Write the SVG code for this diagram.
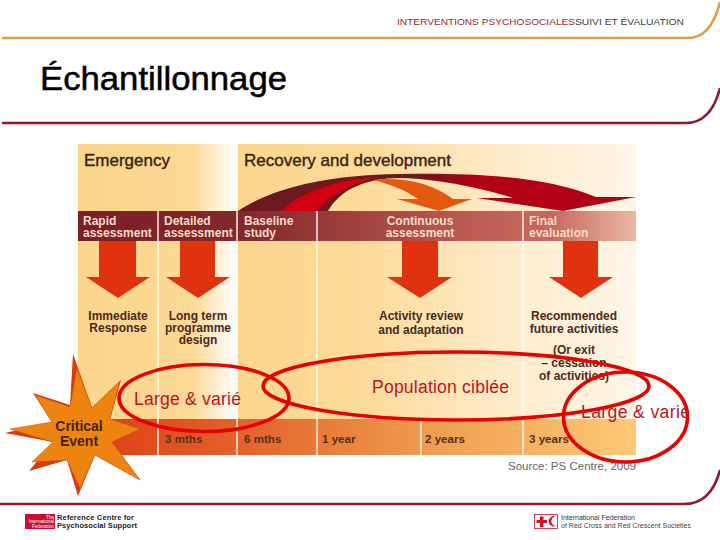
<svg xmlns="http://www.w3.org/2000/svg" width="720" height="540" viewBox="0 0 720 540">
<style>
text{font-family:"Liberation Sans",Arial,sans-serif}
.hd{font-size:17px;fill:#3a2413;stroke:#3a2413;stroke-width:.4}
.bar{font-size:12px;font-weight:bold;fill:#f6dcc8}
.lab{font-size:12px;font-weight:bold;fill:#4a2a1c;text-anchor:middle}
.yr{font-size:11.6px;font-weight:bold;fill:#57301a}
.red{font-size:17.6px;fill:#c0141c}
.ring{fill:none;stroke:#e60000;stroke-width:3.6}
.sep{stroke:#fff;stroke-width:1.6;opacity:.85}
.dn{fill:#e0320f}
.rule{fill:none;stroke-width:2.6}
</style>
<defs>
<linearGradient id="pl" gradientUnits="userSpaceOnUse" x1="78" y1="0" x2="237" y2="0"><stop offset="0" stop-color="#fbd58c"/><stop offset=".72" stop-color="#fcd995"/><stop offset="1" stop-color="#ffffff"/></linearGradient>
<linearGradient id="pr" gradientUnits="userSpaceOnUse" x1="238" y1="0" x2="636" y2="0"><stop offset="0" stop-color="#fcd68c"/><stop offset=".3" stop-color="#fdda98"/><stop offset=".7" stop-color="#feeccc"/><stop offset="1" stop-color="#fff6e8"/></linearGradient>
<linearGradient id="hb" gradientUnits="userSpaceOnUse" x1="78" y1="0" x2="636" y2="0"><stop offset="0" stop-color="#7a1f26"/><stop offset=".3" stop-color="#85282c"/><stop offset=".72" stop-color="#bf5d55"/><stop offset=".85" stop-color="#c7695e"/><stop offset="1" stop-color="#eab9a2"/></linearGradient>
<linearGradient id="bb" gradientUnits="userSpaceOnUse" x1="78" y1="0" x2="636" y2="0"><stop offset="0" stop-color="#e03a14"/><stop offset=".3" stop-color="#e4632b"/><stop offset=".65" stop-color="#efa052"/><stop offset="1" stop-color="#fdc878"/></linearGradient>
<linearGradient id="arc" gradientUnits="userSpaceOnUse" x1="238" y1="0" x2="636" y2="0"><stop offset="0" stop-color="#6c1a1e"/><stop offset=".45" stop-color="#6c1a1e"/><stop offset=".6" stop-color="#b20016"/><stop offset="1" stop-color="#b20016"/></linearGradient>
</defs>

<g id="frame">
<path class="rule" stroke="#dfa045" d="M2 38H688Q711 38 720 2"/>
<path class="rule" stroke="#8c1a2c" d="M2 123H686Q711 123 720 88"/>
<path class="rule" stroke="#8c1a2c" d="M0 504H684Q711 504 720 470"/>
<text x="397" y="25" font-size="9.5" fill="#a32035" textLength="178" lengthAdjust="spacingAndGlyphs">INTERVENTIONS PSYCHOSOCIALES</text>
<text x="575" y="25" font-size="9.5" fill="#3c3c3c" textLength="109" lengthAdjust="spacingAndGlyphs">SUIVI ET ÉVALUATION</text>
<text x="40" y="90" font-size="33.5" fill="#000" stroke="#000" stroke-width=".5" textLength="247" lengthAdjust="spacingAndGlyphs">Échantillonnage</text>
</g>

<g id="panel">
<rect x="78" y="144" width="159" height="311" fill="url(#pl)"/>
<rect x="238" y="144" width="398" height="311" fill="url(#pr)"/>
<rect x="78" y="211" width="558" height="30" fill="url(#hb)"/>
<rect x="78" y="419" width="558" height="36" fill="url(#bb)"/>
<path class="sep" d="M158 211V455M237 144V455M317 211V455M421 419V455M523 211V455"/>
<text class="hd" x="84" y="166">Emergency</text>
<text class="hd" x="244" y="166">Recovery and development</text>
</g>

<g id="connectors">
<path fill="url(#arc)" d="M238 211C270 190 320 175 400 174C460 173 540 174 596 197H636L563 211L477 198H513C495 192 445 179 400 178C365 178 340 190 328 211Z"/>
<path fill="#d20012" d="M281 211C300 193 335 179 375 178C350 185 330 195 317 211Z"/>
<path fill="#e25a0e" d="M373 180C405 176 435 185 453 199H472L439 211L397 199H418C405 190 390 184 373 180Z"/>
<path class="dn" d="M99 241H136V277H150L118 298L86 277H99Z"/>
<path class="dn" d="M180 241H215V277H230L198 298L166 277H180Z"/>
<path class="dn" d="M402 241H438V277H452L420 298L387 277H402Z"/>
<path class="dn" d="M563 241H598V277H613L581 298L549 277H563Z"/>
</g>

<g id="rapid"><text class="bar" x="83" y="224.500">Rapid</text><text class="bar" x="83" y="236.500">assessment</text></g>
<g id="detailed"><text class="bar" x="164" y="224.500">Detailed</text><text class="bar" x="164" y="236.500">assessment</text></g>
<g id="baseline"><text class="bar" x="244" y="224.500">Baseline</text><text class="bar" x="244" y="236.500">study</text></g>
<g id="continuous"><text class="bar" x="420" y="224.500" text-anchor="middle">Continuous</text><text class="bar" x="420" y="236.500" text-anchor="middle">assessment</text></g>
<g id="final"><text class="bar" x="529" y="224.500">Final</text><text class="bar" x="529" y="236.500">evaluation</text></g>

<g id="immediate"><text class="lab" x="118" y="319.500">Immediate</text><text class="lab" x="118" y="331.500">Response</text></g>
<g id="longterm"><text class="lab" x="198" y="319.500">Long term</text><text class="lab" x="198" y="331.500">programme</text><text class="lab" x="198" y="343.500">design</text></g>
<g id="activity"><text class="lab" x="421" y="320">Activity review</text><text class="lab" x="421" y="334">and adaptation</text></g>
<g id="recommended"><text class="lab" x="574" y="320">Recommended</text><text class="lab" x="574" y="333">future activities</text></g>
<g id="exit"><text class="lab" x="574" y="354">(Or exit</text><text class="lab" x="574" y="366.500">– cessation</text><text class="lab" x="574" y="379.500">of activities)</text></g>

<g id="timeline">
<text class="yr" x="165" y="443">3 mths</text>
<text class="yr" x="244" y="443">6 mths</text>
<text class="yr" x="322" y="443">1 year</text>
<text class="yr" x="425" y="443">2 years</text>
<text class="yr" x="529" y="443">3 years</text>
</g>

<g id="source"><text x="508" y="470" font-size="11.5" fill="#666" textLength="128">Source: PS Centre, 2009</text></g>

<g id="critical-event">
<polygon fill="#d83a12" points="73,354 78,368 92,408 121,380 110,419 140,429 112,442 140,480 95,455 78,496 67,460 29,471 53,442 5,433 52,422 33,393 70,405"/>
<polygon fill="#ee8410" stroke="#c9561a" stroke-width=".6" points="77,368 92,408 120,381 110,419 140,429 112,442 140,480 95,455 80,488 67,460 32,462 53,442 10,429 52,422 35,395 70,407"/>
<text x="79" y="431" font-size="14" font-weight="bold" fill="#43240f" text-anchor="middle">Critical</text>
<text x="79" y="446" font-size="14" font-weight="bold" fill="#43240f" text-anchor="middle">Event</text>
</g>

<g id="large-left"><ellipse class="ring" cx="204" cy="398" rx="85" ry="33.5"/><text class="red" x="134" y="405" textLength="107">Large &amp; varié</text></g>
<g id="population"><ellipse class="ring" cx="456" cy="386" rx="193" ry="34"/><text class="red" x="372" y="393" textLength="137">Population ciblée</text></g>
<g id="large-right"><ellipse class="ring" cx="625.500" cy="417" rx="62" ry="45"/><text class="red" x="581" y="418" textLength="109">Large &amp; varié</text></g>

<g id="logo-left">
<rect x="25" y="514" width="30" height="15" fill="#c8102e"/>
<g font-size="4.6" fill="#fff" text-anchor="end"><text x="54" y="518.500">The</text><text x="54" y="523">International</text><text x="54" y="528">Federation</text></g>
<text x="57" y="520" font-size="7.500" font-weight="bold" fill="#222" textLength="77">Reference Centre for</text>
<text x="57" y="528" font-size="7.500" font-weight="bold" fill="#222" textLength="80">Psychosocial Support</text>
</g>
<g id="logo-right">
<rect x="534.500" y="514.500" width="23" height="14" fill="#fff" stroke="#c8102e" stroke-width=".8"/>
<path fill="#d4111e" d="M540 516.500h3.500v3.500h3.500v3h-3.500v4H540v-4h-3.500v-3H540Z"/>
<path fill="#d4111e" d="M556 516.500a5.200 5.200 0 1 0 0 9.500a4.200 4.200 0 1 1 0-9.500Z"/>
<text x="561" y="520" font-size="7" fill="#333" textLength="74">International Federation</text>
<text x="561" y="528" font-size="7" fill="#444" textLength="130">of Red Cross and Red Crescent Societies</text>
</g>
</svg>
